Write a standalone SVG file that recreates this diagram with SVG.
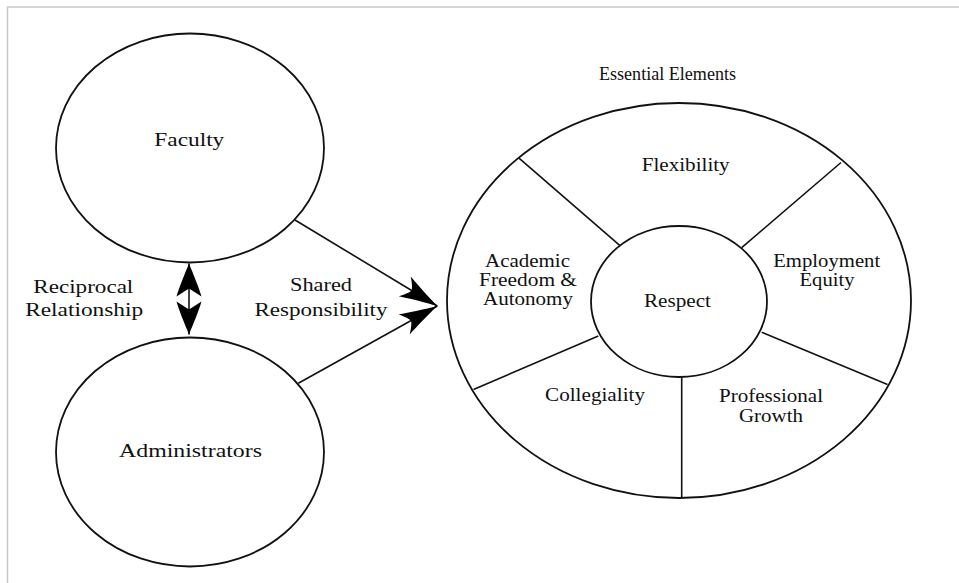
<svg xmlns="http://www.w3.org/2000/svg" width="959" height="583" viewBox="0 0 959 583">
<style>
  .shape { fill: #fff; stroke: #111; stroke-width: 1.8; }
  .line { fill: none; stroke: #111; stroke-width: 1.6; }
  .lbl { font-family: "Liberation Serif", "Times New Roman", serif; font-size: 19px; fill: #111; text-anchor: middle; }
  .frame { stroke: #c8c8c8; stroke-width: 1.5; fill: none; }
</style>
<defs>
  <marker id="arrShared" markerUnits="userSpaceOnUse" viewBox="-45 -15 47 30" refX="0" refY="0" markerWidth="47" markerHeight="30" orient="auto" overflow="visible">
    <path d="M0,0 C-12,-3 -28,-8 -38,-11.5 C-33,-6 -31,-3 -30,0 C-31,3 -33,6 -38,11.5 C-28,8 -12,3 0,0 Z" fill="#000"/>
  </marker>
  <marker id="arrRecip" markerUnits="userSpaceOnUse" viewBox="-40 -15 42 30" refX="0" refY="0" markerWidth="42" markerHeight="30" orient="auto-start-reverse" overflow="visible">
    <path d="M0,0 C-10,-4 -24,-10 -33,-12.5 L-25,0 L-33,12.5 C-24,10 -10,4 0,0 Z" fill="#000"/>
  </marker>
</defs>
<rect width="959" height="583" fill="#fff"/>
<path class="frame" d="M7.5,583 V7 H959"/>

<g id="faculty">
  <ellipse class="shape" cx="190" cy="148" rx="134" ry="114.5"/>
  <text class="lbl" x="189.3" y="146" font-size="20" textLength="70" lengthAdjust="spacingAndGlyphs">Faculty</text>
</g>

<g id="administrators">
  <ellipse class="shape" cx="190" cy="452" rx="134" ry="114.5"/>
  <text class="lbl" x="190.5" y="457" font-size="20" textLength="143" lengthAdjust="spacingAndGlyphs">Administrators</text>
</g>

<g id="essential-elements">
  <ellipse class="shape" cx="679" cy="300.5" rx="232" ry="197.5"/>
  <text class="lbl" x="667.5" y="80" font-size="18" textLength="137" lengthAdjust="spacingAndGlyphs">Essential Elements</text>
  <g id="spokes">
    <line class="line" x1="519" y1="158.2" x2="620" y2="245.7"/>
    <line class="line" x1="841" y1="162.5" x2="741.7" y2="247.7"/>
    <line class="line" x1="761.7" y1="332.3" x2="887.5" y2="384.6"/>
    <line class="line" x1="681.7" y1="376.7" x2="681.7" y2="498"/>
    <line class="line" x1="598.3" y1="336" x2="473.5" y2="389.4"/>
  </g>
  <g id="flexibility">
    <text class="lbl" x="685.7" y="171" textLength="88" lengthAdjust="spacingAndGlyphs">Flexibility</text>
  </g>
  <g id="academic-freedom">
    <text class="lbl" x="527.5" y="266.5" textLength="85" lengthAdjust="spacingAndGlyphs">Academic</text>
    <text class="lbl" x="528" y="285.5" textLength="98" lengthAdjust="spacingAndGlyphs">Freedom &amp;</text>
    <text class="lbl" x="528" y="305" textLength="90" lengthAdjust="spacingAndGlyphs">Autonomy</text>
  </g>
  <g id="employment-equity">
    <text class="lbl" x="826.7" y="266.5" textLength="107" lengthAdjust="spacingAndGlyphs">Employment</text>
    <text class="lbl" x="827" y="285.5" textLength="55" lengthAdjust="spacingAndGlyphs">Equity</text>
  </g>
  <g id="collegiality">
    <text class="lbl" x="595" y="401" textLength="100" lengthAdjust="spacingAndGlyphs">Collegiality</text>
  </g>
  <g id="professional-growth">
    <text class="lbl" x="771" y="402" textLength="104" lengthAdjust="spacingAndGlyphs">Professional</text>
    <text class="lbl" x="771" y="421.5" textLength="64" lengthAdjust="spacingAndGlyphs">Growth</text>
  </g>
  <g id="respect">
    <ellipse class="shape" cx="679" cy="301.5" rx="88" ry="75.5"/>
    <text class="lbl" x="677.5" y="306.5" font-size="20" textLength="67" lengthAdjust="spacingAndGlyphs">Respect</text>
  </g>
</g>

<g id="connectors">
  <line class="line" x1="189" y1="263.5" x2="189" y2="334.5" marker-start="url(#arrRecip)" marker-end="url(#arrRecip)"/>
  <line class="line" x1="295" y1="220" x2="437.3" y2="306" marker-end="url(#arrShared)"/>
  <line class="line" x1="298.3" y1="383.3" x2="437.3" y2="306" marker-end="url(#arrShared)"/>
  <text class="lbl" x="83.3" y="293" font-size="20" textLength="100" lengthAdjust="spacingAndGlyphs">Reciprocal</text>
  <text class="lbl" x="84.2" y="315.5" font-size="20" textLength="118" lengthAdjust="spacingAndGlyphs">Relationship</text>
  <text class="lbl" x="321" y="291" font-size="20" textLength="62" lengthAdjust="spacingAndGlyphs">Shared</text>
  <text class="lbl" x="321" y="316" font-size="20" textLength="133" lengthAdjust="spacingAndGlyphs">Responsibility</text>
</g>
</svg>
